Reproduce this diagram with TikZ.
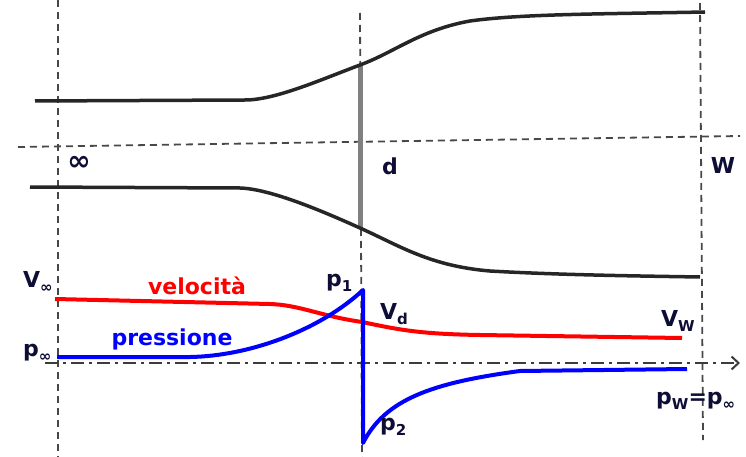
\documentclass[tikz,border=0pt]{standalone}
\usepackage{fontspec}
\setmainfont{DejaVu Sans}
\usetikzlibrary{arrows.meta}
\definecolor{navy}{HTML}{0D0D35}
\definecolor{guide}{HTML}{484848}
\definecolor{curve}{HTML}{262626}
\newcommand\subx[1]{\raisebox{-0.45ex}{\fontsize{15}{15}\selectfont #1}}
\tikzset{
  guideline/.style={guide, line width=1.8pt, dash pattern=on 7pt off 5pt},
  axisline/.style={curve!90, line width=2pt, dash pattern=on 13pt off 5pt on 3pt off 5pt},
  wall/.style={curve, line width=3.5pt},
  lbl/.style={navy, font=\fontsize{22}{24}\selectfont\bfseries, inner sep=0pt},
  redcurve/.style={red, line width=4pt},
  bluecurve/.style={blue, line width=4pt, line join=round},
}
\begin{document}
\begin{tikzpicture}[x=1pt, y=-1pt]
\useasboundingbox (0,0) rectangle (746,457);
% guide lines
\draw[guideline] (58,0) -- (58,457);
\draw[guideline] (360,13) -- (362,457);
\draw[guideline] (700,3) -- (703,440);
\draw[guideline] (18,147) -- (740,136);
% disc
\draw[gray, line width=5pt] (360,65) -- (360,228);
% stream tube
\draw[wall] (35,101) -- (245,100) .. controls (275,100) and (320,80) .. (360,65)
  .. controls (395,52) and (420,30) .. (470,21) .. controls (520,14) and (600,14) .. (705,12);
\draw[wall] (30,187) -- (240,188) .. controls (270,189) and (320,210) .. (360,228)
  .. controls (400,246) and (430,266) .. (490,271) .. controls (560,275) and (640,276) .. (700,277);
% axis
\coordinate (ax0) at (45,363);
\coordinate (ax1) at (740,363);
\draw[axisline, -{Straight Barb[length=7pt, width=13pt]}] (ax0) -- (ax1);
% velocity
\draw[redcurve] (55,299) -- (270,304) .. controls (300,305) and (320,316) .. (362,322)
  .. controls (400,330) and (420,334) .. (480,335) -- (682,338);
% pressure
\draw[bluecurve] (57,357) -- (190,357) .. controls (250,356) and (320,330) .. (363,290)
  -- (363,443) .. controls (385,400) and (430,383) .. (520,371) -- (687,369);
% labels
\node[navy, font=\fontsize{28}{30}\selectfont\bfseries, inner sep=0pt] (inf) at (79,163) {∞};
\node[lbl] (d) at (390,166) {d};
\node[lbl] (w) at (723,165) {W};
\node[lbl, anchor=west] (vinf) at (23,282) {V\subx{∞}};
\node[lbl, anchor=west] (pinf) at (23,353) {p\subx{∞}};
\node[red, font=\fontsize{22}{24}\selectfont\bfseries, inner sep=0pt] (vel) at (197,286) {velocità};
\node[blue, font=\fontsize{22}{24}\selectfont\bfseries, inner sep=0pt] (pre) at (172,339) {pressione};
\node[lbl, anchor=west] (p1) at (326,283) {p\subx{1}};
\node[lbl, anchor=west] (vd) at (380,314) {V\subx{d}};
\node[lbl, anchor=west] (p2) at (380,427) {p\subx{2}};
\node[lbl, anchor=west] (vw) at (661,321) {V\subx{W}};
\node[lbl, anchor=west] (pw) at (656,401) {p\subx{W}=p\subx{∞}};
\end{tikzpicture}
\end{document}
